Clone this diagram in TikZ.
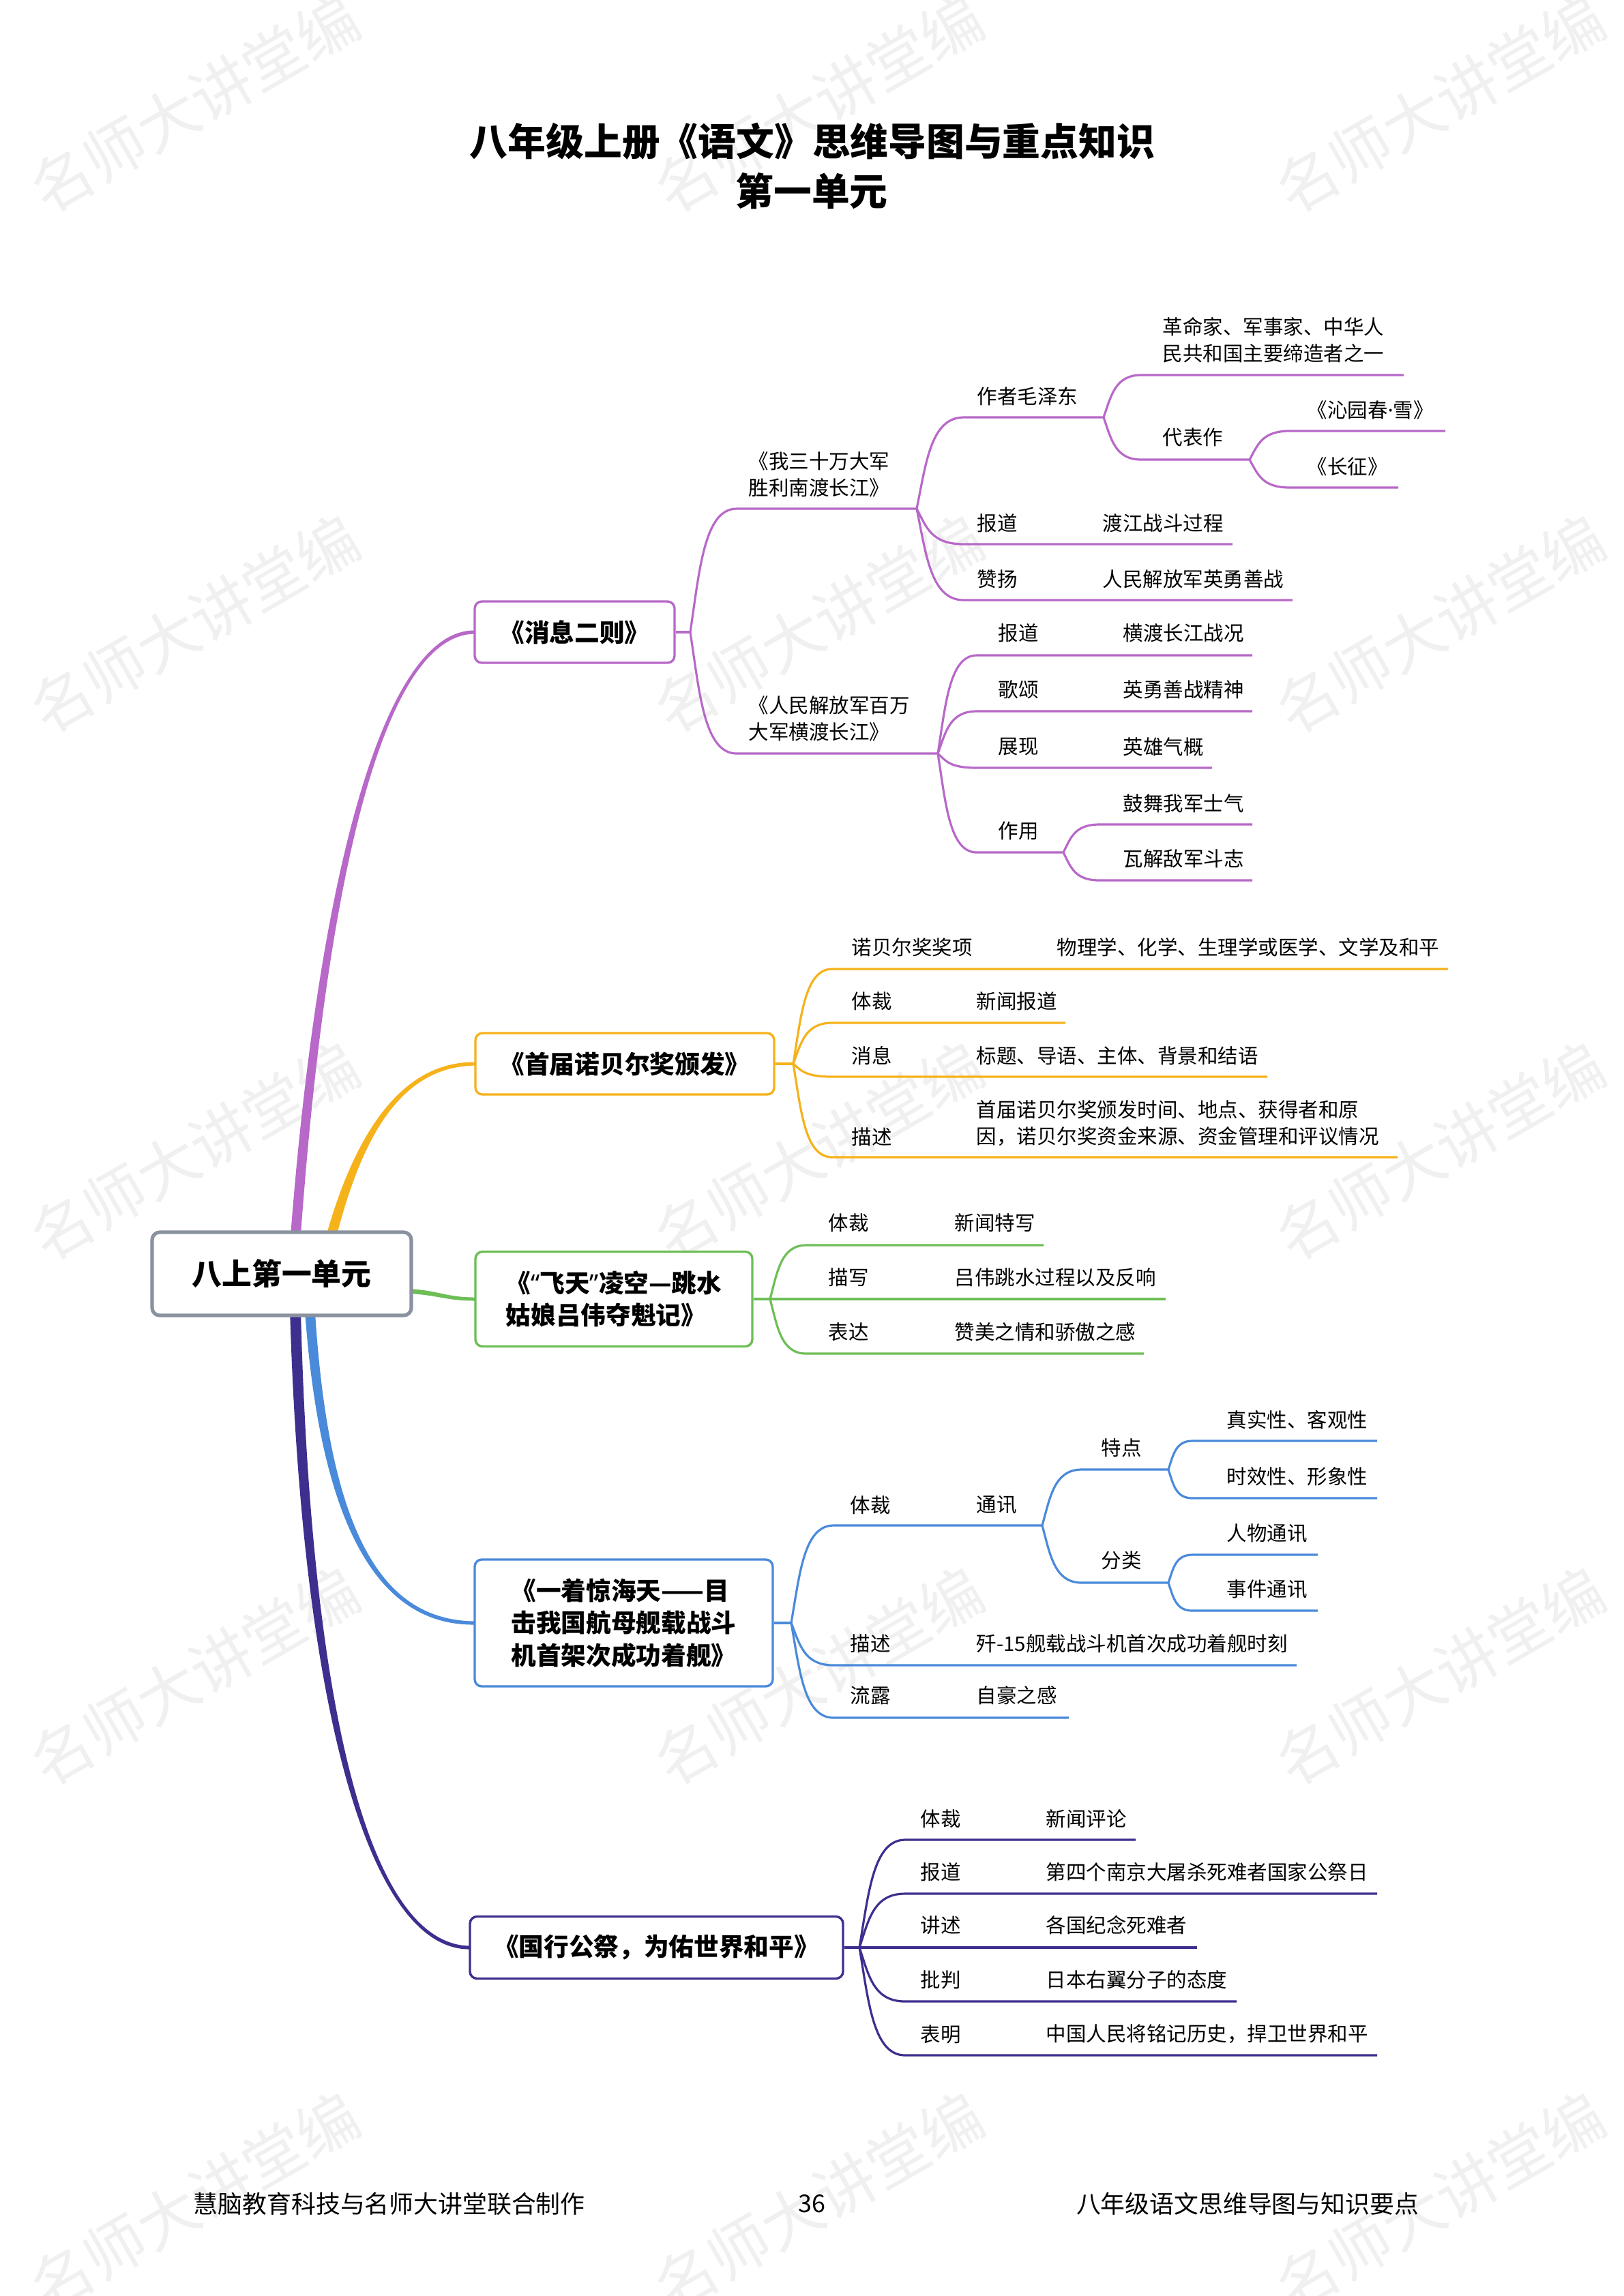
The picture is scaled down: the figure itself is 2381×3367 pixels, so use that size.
\documentclass[tikz,border=0pt]{standalone}
\usepackage{fontspec}
\setmainfont{Noto Sans CJK SC}
\newfontfamily\latinf{Noto Sans}
\usetikzlibrary{calc}
\definecolor{cpur}{HTML}{B868C8}
\definecolor{corg}{HTML}{F6B21B}
\definecolor{cgrn}{HTML}{6DBE55}
\definecolor{cblu}{HTML}{4A8ADA}
\definecolor{cind}{HTML}{3D2F8E}
\definecolor{cgry}{HTML}{8A92A0}
\definecolor{wmc}{HTML}{F0F0F0}
\newcommand\fs[2]{\fontsize{#1}{#2}\selectfont}
% branch: style, split coordinate, curve end x, curve end y, underline end x
\newcommand\br[5]{%
  \draw[#1] let \p1=(#2), \p2=(#3,#4) in (\p1) .. controls ({\x1+0.2*(\x2-\x1)},{\y1+0.5*(\y2-\y1)}) and ({\x1+0.3*(\x2-\x1)},\y2) .. (\p2) -- (#5,#4);
}
\begin{document}
\begin{tikzpicture}[x=0.2509pt,y=-0.2509pt,
  txt/.style={anchor=west,inner sep=0pt,font=\fs{7.4pt}{9.8pt},align=left},
  wmk/.style={rotate=30,text=wmc,font=\fs{22.5pt}{22.5pt},inner sep=0pt},
  bx/.style={rounded corners=2.6pt,fill=white,line width=0.85pt,inner sep=0pt,font=\bfseries\fs{9.2pt}{12pt},align=left},
  c1/.style={draw=cpur,line width=0.8pt},
  c2/.style={draw=corg,line width=0.8pt},
  c3/.style={draw=cgrn,line width=0.8pt},
  c4/.style={draw=cblu,line width=0.8pt},
  c5/.style={draw=cind,line width=0.8pt},
]
\useasboundingbox (0,0) rectangle (2381,3367);
\fill[white] (0,0) rectangle (2381,3367);

% watermarks
\foreach \wx in {285,1200,2111}{
  \foreach \wy in {152,915,1688,2458,3228}{
    \node[wmk] (wm-\wx-\wy) at (\wx,\wy) {名师大讲堂编};
  }
}

% title
\node[font=\bfseries\fs{14pt}{18pt},inner sep=0pt] (title1) at (1191,207) {八年级上册《语文》思维导图与重点知识};
\node[font=\bfseries\fs{14pt}{18pt},inner sep=0pt] (title2) at (1190,280) {第一单元};

% trunks
\fill[cpur] (422.5,1860) .. controls (461.5,1300) and (560,923) .. (696,924.5) -- (696,929.5) .. controls (560,931) and (474.5,1300) .. (437.5,1860) -- cycle;
\fill[corg] (466,1860) .. controls (508,1680) and (580,1556) .. (697,1557.5) -- (697,1562.5) .. controls (580,1564) and (522,1680) .. (482,1860) -- cycle;
\fill[cgrn] (590,1889.5) .. controls (645,1891.5) and (650,1902.5) .. (697,1902.5) -- (697,1907.5) .. controls (650,1907.5) and (645,1898.5) .. (590,1896.5) -- cycle;
\fill[cblu] (444.5,1880) .. controls (463.5,2250) and (560,2384) .. (696,2382.5) -- (696,2377.5) .. controls (560,2376) and (476.5,2250) .. (459.5,1880) -- cycle;
\fill[cind] (424,1880) .. controls (438,2500) and (540,2860) .. (689,2858.5) -- (689,2853.5) .. controls (540,2852) and (452,2500) .. (440,1880) -- cycle;

% main node
\node[draw=cgry,line width=1.3pt,rounded corners=2.8pt,fill=white,inner sep=0pt,
  minimum width=380*0.2509pt,minimum height=122*0.2509pt,font=\bfseries\fs{11pt}{13pt}] (b0) at (413,1868) {八上第一单元};

% section boxes
\node[bx,draw=cpur,minimum width=293*0.2509pt,minimum height=90*0.2509pt] (b1) at (842.5,927) {《消息二则》};
\node[bx,draw=corg,minimum width=438*0.2509pt,minimum height=90*0.2509pt] (b2) at (916,1560) {《首届诺贝尔奖颁发》};
\node[bx,draw=cgrn,minimum width=406*0.2509pt,minimum height=139*0.2509pt] (b3) at (900,1905) {《{\latinf\bfseries “}飞天{\latinf\bfseries ”}凌空—跳水\\姑娘吕伟夺魁记》};
\node[bx,draw=cblu,minimum width=437*0.2509pt,minimum height=186*0.2509pt] (b4) at (914.5,2380) {《一着惊海天——目\\击我国航母舰载战斗\\机首架次成功着舰》};
\node[bx,draw=cind,minimum width=547*0.2509pt,minimum height=91*0.2509pt] (b5) at (962.5,2856) {《国行公祭，为佑世界和平》};

% ---------- section 1 ----------
\coordinate (s1) at (1012,927);
\draw[c1] (b1.east) -- (s1);
\br{c1}{s1}{1080}{746}{1344}
\br{c1}{s1}{1080}{1105}{1375}
\coordinate (s11) at (1344,746);
\br{c1}{s11}{1413}{612}{1618}
\br{c1}{s11}{1413}{798}{1807}
\br{c1}{s11}{1413}{880}{1895}
\coordinate (s111) at (1618,612);
\br{c1}{s111}{1673}{550}{2058}
\br{c1}{s111}{1673}{674}{1832}
\coordinate (s1112) at (1832,674);
\br{c1}{s1112}{1891}{632}{2119}
\br{c1}{s1112}{1891}{715}{2050}
\coordinate (s12) at (1375,1105);
\br{c1}{s12}{1432}{961}{1836}
\br{c1}{s12}{1432}{1043}{1836}
\br{c1}{s12}{1432}{1126}{1777}
\br{c1}{s12}{1432}{1250}{1559}
\coordinate (s124) at (1559,1250);
\br{c1}{s124}{1612}{1209}{1836}
\br{c1}{s124}{1612}{1291}{1836}

\node[txt] (t11) at (1097,695.5) {《我三十万大军\\胜利南渡长江》};
\node[txt] (t12) at (1097,1053.5) {《人民解放军百万\\大军横渡长江》};
\node[txt] (t111) at (1432,581) {作者毛泽东};
\node[txt] (t112) at (1432,767) {报道};
\node[txt] (v112) at (1616,767) {渡江战斗过程};
\node[txt] (t113) at (1432,849) {赞扬};
\node[txt] (v113) at (1616,849) {人民解放军英勇善战};
\node[txt] (t1111) at (1704,499) {革命家、军事家、中华人\\民共和国主要缔造者之一};
\node[txt] (t1112) at (1704,641) {代表作};
\node[txt] (t11121) at (1916,601) {《沁园春{\latinf ·}雪》};
\node[txt] (t11122) at (1916,684) {《长征》};
\node[txt] (t121) at (1463,928) {报道};
\node[txt] (v121) at (1646,928) {横渡长江战况};
\node[txt] (t122) at (1463,1011) {歌颂};
\node[txt] (v122) at (1646,1011) {英勇善战精神};
\node[txt] (t123) at (1463,1095) {展现};
\node[txt] (v123) at (1646,1095) {英雄气概};
\node[txt] (t124) at (1463,1218) {作用};
\node[txt] (t1241) at (1646,1178) {鼓舞我军士气};
\node[txt] (t1242) at (1646,1259) {瓦解敌军斗志};

% ---------- section 2 ----------
\coordinate (s2) at (1163,1560);
\draw[c2] (b2.east) -- (s2);
\br{c2}{s2}{1220}{1421}{2123}
\br{c2}{s2}{1220}{1500}{1562}
\br{c2}{s2}{1220}{1579}{1858}
\br{c2}{s2}{1220}{1697}{2049}
\node[txt] (t21) at (1248,1389) {诺贝尔奖奖项};
\node[txt] (v21) at (1549,1389) {物理学、化学、生理学或医学、文学及和平};
\node[txt] (t22) at (1248,1468) {体裁};
\node[txt] (v22) at (1431,1468) {新闻报道};
\node[txt] (t23) at (1248,1548) {消息};
\node[txt] (v23) at (1431,1548) {标题、导语、主体、背景和结语};
\node[txt] (t24) at (1248,1667) {描述};
\node[txt] (v24) at (1431,1647.5) {首届诺贝尔奖颁发时间、地点、获得者和原\\因，诺贝尔奖资金来源、资金管理和评议情况};

% ---------- section 3 ----------
\coordinate (s3) at (1129,1905);
\draw[c3] (b3.east) -- (s3);
\br{c3}{s3}{1182}{1826}{1530}
\br{c3}{s3}{1182}{1905}{1709}
\br{c3}{s3}{1182}{1985}{1677}
\node[txt] (t31) at (1214,1793) {体裁};
\node[txt] (v31) at (1399,1793) {新闻特写};
\node[txt] (t32) at (1214,1873) {描写};
\node[txt] (v32) at (1399,1873) {吕伟跳水过程以及反响};
\node[txt] (t33) at (1214,1953) {表达};
\node[txt] (v33) at (1399,1953) {赞美之情和骄傲之感};

% ---------- section 4 ----------
\coordinate (s4) at (1160,2380);
\draw[c4] (b4.east) -- (s4);
\br{c4}{s4}{1222}{2237}{1528}
\br{c4}{s4}{1222}{2442}{1901}
\br{c4}{s4}{1222}{2519}{1567}
\coordinate (s41) at (1528,2237);
\br{c4}{s41}{1586}{2155}{1713}
\br{c4}{s41}{1586}{2321}{1713}
\coordinate (s411) at (1713,2155);
\br{c4}{s411}{1748}{2113}{2019}
\br{c4}{s411}{1748}{2197}{2019}
\coordinate (s412) at (1713,2321);
\br{c4}{s412}{1748}{2280}{1932}
\br{c4}{s412}{1748}{2362}{1932}
\node[txt] (t41) at (1246,2207) {体裁};
\node[txt] (v41) at (1431,2207) {通讯};
\node[txt] (t411) at (1614,2123) {特点};
\node[txt] (t412) at (1614,2288) {分类};
\node[txt] (t4111) at (1798,2082) {真实性、客观性};
\node[txt] (t4112) at (1798,2165) {时效性、形象性};
\node[txt] (t4121) at (1798,2248) {人物通讯};
\node[txt] (t4122) at (1798,2330) {事件通讯};
\node[txt] (t42) at (1246,2410) {描述};
\node[txt] (v42) at (1431,2410) {歼-15舰载战斗机首次成功着舰时刻};
\node[txt] (t43) at (1246,2486) {流露};
\node[txt] (v43) at (1431,2486) {自豪之感};

% ---------- section 5 ----------
\coordinate (s5) at (1260,2856);
\draw[c5] (b5.east) -- (s5);
\br{c5}{s5}{1327}{2698}{1665}
\br{c5}{s5}{1327}{2777}{2019}
\br{c5}{s5}{1327}{2856}{1755}
\br{c5}{s5}{1327}{2935}{1813}
\br{c5}{s5}{1327}{3014}{2019}
\node[txt] (t51) at (1349,2667) {体裁};
\node[txt] (v51) at (1533,2667) {新闻评论};
\node[txt] (t52) at (1349,2745) {报道};
\node[txt] (v52) at (1533,2745) {第四个南京大屠杀死难者国家公祭日};
\node[txt] (t53) at (1349,2823) {讲述};
\node[txt] (v53) at (1533,2823) {各国纪念死难者};
\node[txt] (t54) at (1349,2903) {批判};
\node[txt] (v54) at (1533,2903) {日本右翼分子的态度};
\node[txt] (t55) at (1349,2983) {表明};
\node[txt] (v55) at (1533,2983) {中国人民将铭记历史，捍卫世界和平};

% footer
\node[anchor=west,inner sep=0pt,font=\fs{9pt}{9pt}] (foot1) at (283,3232) {慧脑教育科技与名师大讲堂联合制作};
\node[inner sep=0pt,font=\fs{9pt}{9pt}] (foot2) at (1190,3232) {36};
\node[anchor=east,inner sep=0pt,font=\fs{9pt}{9pt}] (foot3) at (2081,3232) {八年级语文思维导图与知识要点};
\end{tikzpicture}
\end{document}
